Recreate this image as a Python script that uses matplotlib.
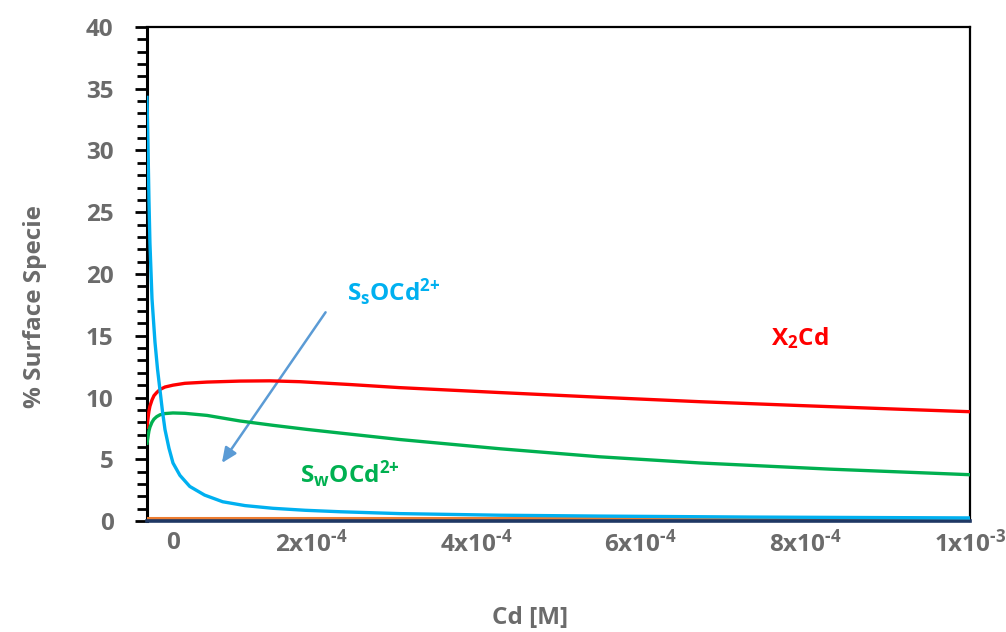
import matplotlib
matplotlib.use("Agg")
import matplotlib.pyplot as plt
from matplotlib.transforms import ScaledTranslation

plt.rcParams["font.family"] = ["Open Sans", "DejaVu Sans"]
plt.rcParams["font.weight"] = "bold"
plt.rcParams["axes.labelweight"] = "bold"
plt.rcParams["mathtext.fontset"] = "custom"
plt.rcParams["mathtext.rm"] = "Open Sans:bold"
plt.rcParams["mathtext.bf"] = "Open Sans:bold"
plt.rcParams["mathtext.default"] = "rm"

GRAY = "#6b6b6b"

# readings (x in M, y in %)
ss_x = [0, 1.2e-6, 2.4e-6, 3.6e-6, 6.1e-6, 9.7e-6, 1.28e-5, 1.58e-5,
        1.88e-5, 2.19e-5, 2.67e-5, 3.16e-5, 4.0e-5, 5.2e-5, 7.0e-5,
        9.2e-5, 1.19e-4, 1.53e-4, 1.92e-4, 2.35e-4, 3.07e-4, 4.29e-4,
        5.5e-4, 7.33e-4, 1e-3]
ss_y = [34.3, 30.5, 26.0, 22.5, 18.0, 14.5, 12.3, 10.6,
        8.9, 7.4, 5.9, 4.7, 3.7, 2.8, 2.1,
        1.56, 1.25, 1.03, 0.87, 0.75, 0.6, 0.47,
        0.4, 0.32, 0.25]

x2_x = [0, 1.2e-6, 2.4e-6, 3.6e-6, 6.1e-6, 8.5e-6, 1.18e-5, 1.58e-5,
        2.19e-5, 3.16e-5, 4.6e-5, 7.3e-5, 1.13e-4, 1.49e-4, 1.86e-4,
        2.47e-4, 3.07e-4, 4.29e-4, 5.5e-4, 6.72e-4, 7.93e-4, 9.15e-4, 1e-3]
x2_y = [7.6, 8.3, 8.9, 9.3, 9.8, 10.15, 10.4, 10.65,
        10.85, 11.0, 11.15, 11.25, 11.33, 11.35, 11.28,
        11.05, 10.8, 10.4, 10.02, 9.66, 9.35, 9.05, 8.85]

sw_x = [0, 1.2e-6, 2.4e-6, 3.6e-6, 6.1e-6, 8.5e-6, 1.18e-5, 1.58e-5,
        2.19e-5, 3.16e-5, 4.6e-5, 7.3e-5, 1.13e-4, 1.53e-4, 1.94e-4,
        2.35e-4, 3.07e-4, 4.29e-4, 5.5e-4, 6.72e-4, 8.3e-4, 1e-3]
sw_y = [6.3, 6.8, 7.3, 7.6, 8.0, 8.25, 8.45, 8.6,
        8.7, 8.75, 8.72, 8.55, 8.1, 7.75, 7.42,
        7.12, 6.6, 5.85, 5.2, 4.7, 4.2, 3.75]

flat_x = [0, 1e-3]
orange_y = [0.22, 0.22]
navy_y = [0.02, 0.02]

xticks = [0, 2e-4, 4e-4, 6e-4, 8e-4, 1e-3]
xtick_labels = ["0", r"2x10$^{\text{-}4}$", r"4x10$^{\text{-}4}$",
                r"6x10$^{\text{-}4}$", r"8x10$^{\text{-}4}$", r"1x10$^{\text{-}3}$"]
yticks = [0, 5, 10, 15, 20, 25, 30, 35, 40]

fig = plt.figure(figsize=(10.06, 6.32), dpi=100)
ax = fig.add_axes([0.1461, 0.1756, 0.8181, 0.7817])

ax.plot(flat_x, orange_y, color="#ED7D31", lw=2.2, zorder=3)
ax.plot(flat_x, navy_y, color="#1F3864", lw=2.6, zorder=3, clip_on=False)
ax.plot(x2_x, x2_y, color="#FF0000", lw=2.4, zorder=4)
ax.plot(sw_x, sw_y, color="#00B050", lw=2.4, zorder=4)
ax.plot(ss_x, ss_y, color="#00B0F0", lw=2.4, zorder=5)

ax.set_xlim(0, 1e-3)
ax.set_ylim(0, 40)
ax.set_xticks(xticks)
ax.set_xticklabels(xtick_labels)
ax.set_yticks(yticks)
ax.set_yticks(range(0, 41), minor=True)

ax.tick_params(axis="y", which="major", direction="out", length=9, width=2,
               labelsize=17.5, labelcolor=GRAY, pad=15)
ax.tick_params(axis="y", which="minor", direction="out", length=7, width=2)
ax.tick_params(axis="x", which="major", length=0, labelsize=17.5,
               labelcolor=GRAY, pad=7)

# the "0" on x sits a little right of the axis in the original
lbl0 = ax.get_xticklabels()[0]
lbl0.set_transform(lbl0.get_transform() + ScaledTranslation(0.26, 0, fig.dpi_scale_trans))

ax.spines["left"].set_linewidth(2.2)
for s in ["top", "right"]:
    ax.spines[s].set_linewidth(1.6)
ax.spines["bottom"].set_visible(False)

ax.set_ylabel("% Surface Specie", fontsize=17.5, color=GRAY)
ax.yaxis.set_label_coords(-0.122, 0.435)
ax.set_xlabel("Cd [M]", fontsize=17.5, color=GRAY)
ax.xaxis.set_label_coords(0.465, -0.172)

ax.text(3.0e-4, 18.5, r"S$_s$OCd$^{2{+}}$", color="#00B0F0", fontsize=17.5,
        ha="center", va="center")
ax.text(7.93e-4, 14.8, r"X$_2$Cd", color="#FF0000", fontsize=17.5,
        ha="center", va="center")
ax.text(2.47e-4, 3.8, r"S$_w$OCd$^{2{+}}$", color="#00B050", fontsize=17.5,
        ha="center", va="center")

ax.annotate("", xy=(9.1e-5, 4.7), xytext=(2.17e-4, 16.9),
            arrowprops=dict(arrowstyle="-|>,head_length=0.9,head_width=0.4",
                            color="#5B9BD5", lw=1.8, shrinkA=0, shrinkB=0))

fig.savefig("out.png", dpi=100)
